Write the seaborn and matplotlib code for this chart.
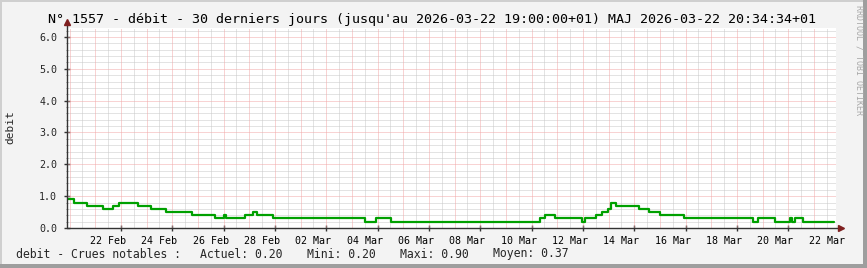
import numpy as np
import pandas as pd
import matplotlib
matplotlib.use("Agg")
import matplotlib.pyplot as plt
import seaborn as sns
from matplotlib.patches import Rectangle

# ---------------- data ----------------
step_times = [
    "02-20 21:40", "02-21 04:00", "02-21 16:00", "02-22 07:30", "02-22 16:20",
    "02-22 22:30", "02-23 15:50", "02-24 03:50", "02-24 18:10", "02-25 18:15",
    "02-26 16:00", "02-27 00:45", "02-27 02:10", "02-27 20:00", "02-28 03:50",
    "02-28 07:40", "02-28 21:50", "03-04 12:15", "03-04 22:30", "03-05 12:15",
    "03-11 08:20", "03-11 12:30", "03-11 21:40", "03-12 23:35", "03-13 02:10",
    "03-13 11:50", "03-13 18:00", "03-13 23:35", "03-14 02:00", "03-14 06:30",
    "03-15 04:35", "03-15 14:00", "03-16 00:00", "03-16 22:20", "03-19 15:10",
    "03-19 20:10", "03-20 12:00", "03-21 01:30", "03-21 03:30", "03-21 06:00",
    "03-21 13:40", "03-22 18:30",
]
step_values = [
    0.9, 0.8, 0.7, 0.6, 0.7,
    0.8, 0.7, 0.6, 0.5, 0.4,
    0.3, 0.4, 0.3, 0.4, 0.5,
    0.4, 0.3, 0.2, 0.3, 0.2,
    0.3, 0.4, 0.3, 0.2, 0.3,
    0.4, 0.5, 0.6, 0.8, 0.7,
    0.6, 0.5, 0.4, 0.3, 0.2,
    0.3, 0.2, 0.3, 0.2, 0.3,
    0.2, 0.2,
]
year = "2026"
tick_labels = ["22 Feb", "24 Feb", "26 Feb", "28 Feb", "02 Mar", "04 Mar",
               "06 Mar", "08 Mar", "10 Mar", "12 Mar", "14 Mar", "16 Mar",
               "18 Mar", "20 Mar", "22 Mar"]
y_ticks = [0.0, 1.0, 2.0, 3.0, 4.0, 5.0, 6.0]
title = ("N° 1557 - débit - 30 derniers jours (jusqu'au 2026-03-22 19:00:00+01) "
         "MAJ 2026-03-22 20:34:34+01")
ylabel = "debit"
legend_name = "debit - Crues notables :"
stat_names = ["Actuel", "Mini", "Maxi", "Moyen"]
stat_values = [0.20, 0.20, 0.90, 0.37]
watermark = "RRDTOOL / TOBI OETIKER"

# ---------------- figure ----------------
W, H = 867, 268
sns.set_theme(style="white")
plt.rcParams["font.family"] = ["DejaVu Sans Mono", "DejaVu Sans"]

fig = plt.figure(figsize=(W / 100, H / 100), dpi=100, facecolor="#F3F3F3")
ax = fig.add_axes([67 / W, 1 - 228 / H, (836 - 67) / W, 200 / H])
ax.set_facecolor("white")

origin = pd.Timestamp(f"{year}-02-21 00:00")
t = pd.to_datetime([f"{year}-{s}" for s in step_times])
days = (t - origin) / pd.Timedelta(days=1)
df = pd.DataFrame({"day": np.asarray(days), "debit": step_values})

xmin, xmax = -0.10, 29.86
ymax = 6.28

# grid
red = "#F2A8A8"
grey = "#C8C8C8"
dots = (0, (1, 1))
for d in np.arange(0, 30):
    ax.axvline(d, color=red, lw=0.72, ls=dots, zorder=1)
for d in np.arange(-0.5, 30, 1.0):
    if xmin < d < xmax:
        ax.axvline(d, color=grey, lw=0.72, ls=dots, zorder=0.9)
for y in np.arange(0.2, 6.3, 0.2):
    if abs(y - round(y)) < 1e-6:
        ax.axhline(y, color=red, lw=0.72, ls=dots, zorder=1)
    else:
        ax.axhline(y, color=grey, lw=0.72, ls=dots, zorder=0.9)

sns.lineplot(data=df, x="day", y="debit", drawstyle="steps-post",
             color="#00A000", linewidth=1.6, ax=ax, estimator=None,
             sort=False, zorder=3)

ax.set_xlim(xmin, xmax)
ax.set_ylim(0, ymax)

# x ticks: labels centred on days, tick marks at day boundaries (every 2 days)
label_pos = [(pd.to_datetime(f"{lab} {year}") + pd.Timedelta(hours=12) - origin)
             / pd.Timedelta(days=1) for lab in tick_labels]
ax.set_xticks(label_pos)
ax.set_xticklabels(tick_labels, fontsize=7.2)
ax.set_xticks([p + 0.5 for p in label_pos if p + 0.5 < xmax], minor=True)
ax.tick_params(axis="x", which="major", length=0, pad=6, colors="#000000")
ax.tick_params(axis="x", which="minor", length=4, direction="inout",
               color="#333333", width=1, bottom=True)

ax.set_yticks(y_ticks)
ax.set_yticklabels([f"{v:.1f}" for v in y_ticks], fontsize=7.2)
ax.set_yticks(np.arange(0.2, 6.3, 0.2), minor=True)
ax.tick_params(axis="y", which="major", length=4, direction="inout",
               color="#333333", width=1, pad=5, left=True)
ax.tick_params(axis="y", which="minor", length=2, direction="inout",
               color="#888888", width=0.7, left=True)

ax.set_xlabel("")
ax.set_ylabel("")
for s in ax.spines.values():
    s.set_visible(False)

# axis lines with arrows
axis_col = "#333333"
arrow_col = "#7F1F1F"
ax.plot([0, 1.007], [0, 0], transform=ax.transAxes, color=axis_col, lw=1,
        clip_on=False, zorder=4)
ax.plot([0, 0], [0, 1.02], transform=ax.transAxes, color=axis_col, lw=1,
        clip_on=False, zorder=4)
ax.plot([1.007], [0], marker=">", ms=5, color=arrow_col, transform=ax.transAxes,
        clip_on=False, zorder=5)
ax.plot([0], [1.03], marker="^", ms=5, color=arrow_col, transform=ax.transAxes,
        clip_on=False, zorder=5)

# texts
fig.text(432.5 / W, 1 - 19 / H, title, ha="center", va="center", fontsize=9.6,
         color="black")
fig.text(10.5 / W, 1 - 127 / H, ylabel, rotation=90, ha="center", va="center",
         fontsize=8.0)
fig.text(16 / W, 1 - 254 / H, legend_name, ha="left", va="center", fontsize=8.3)
stat_x = [200, 306.7, 400, 492.7]
for name, val, x in zip(stat_names, stat_values, stat_x):
    fig.text(x / W, 1 - 254 / H, f"{name}: {val:.2f}", ha="left", va="center",
             fontsize=8.3)
fig.text(858.5 / W, 1 - 5 / H, watermark, rotation=270, ha="center", va="top",
         fontsize=6.0, color="#A8A8A8")

# 3D frame
fig.add_artist(Rectangle((0, 1 - 2 / H), 1, 2 / H, transform=fig.transFigure,
                         color="#CFCFCF", lw=0))
fig.add_artist(Rectangle((0, 0), 2 / W, 1, transform=fig.transFigure,
                         color="#CFCFCF", lw=0))
fig.add_artist(Rectangle((1 - 4 / W, 0), 4 / W, 1, transform=fig.transFigure,
                         color="#9E9E9E", lw=0))
fig.add_artist(Rectangle((0, 0), 1, 4 / H, transform=fig.transFigure,
                         color="#9E9E9E", lw=0))

fig.savefig("out.png", dpi=100, facecolor=fig.get_facecolor())
